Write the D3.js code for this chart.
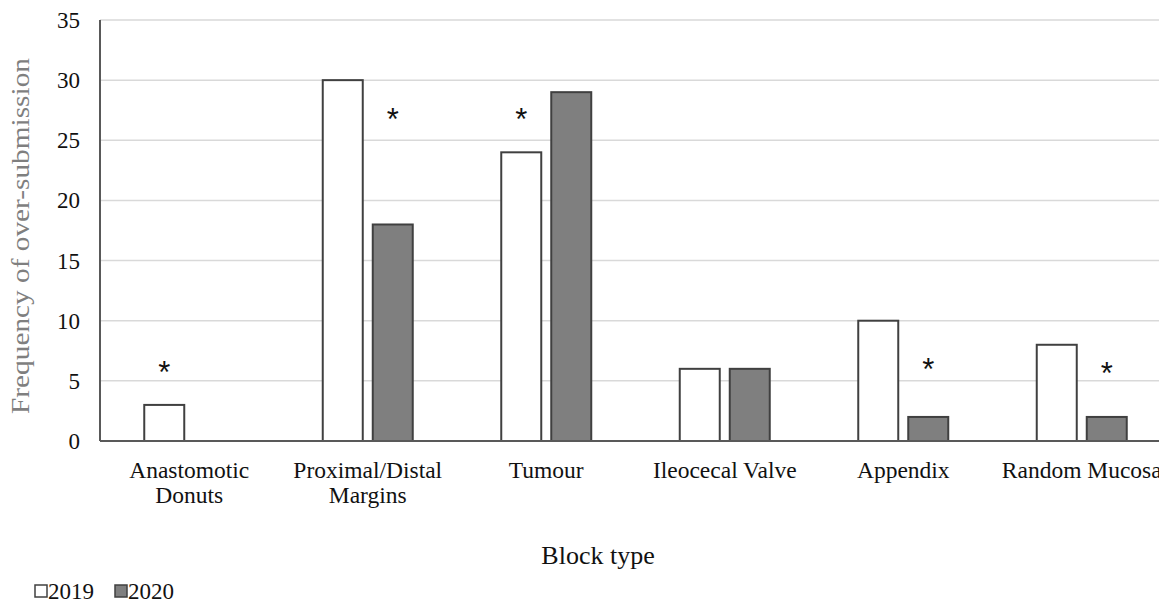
<!DOCTYPE html>
<html>
<head>
<meta charset="utf-8">
<script src="https://cdn.jsdelivr.net/npm/d3@7"></script>
<style>
  body { margin: 0; background: #fff; }
  svg { display: block; font-family: "Liberation Serif", "Times New Roman", serif; }
</style>
</head>
<body>
<div id="chart-area"></div>
<script>
// data
let categories = ["Anastomotic Donuts", "Proximal/Distal Margins", "Tumour", "Ileocecal Valve", "Appendix", "Random Mucosa"];
let labelLines = [["Anastomotic", "Donuts"], ["Proximal/Distal", "Margins"], ["Tumour"], ["Ileocecal Valve"], ["Appendix"], ["Random Mucosa"]];
let years = ["2019", "2020"];
let values2019 = [3, 30, 24, 6, 10, 8];
let values2020 = [0, 18, 29, 6, 2, 2];
// significance marks: which series it sits over and at what height
let starSeries = ["2019", "2020", "2019", null, "2020", "2020"];
let starLevel = [6.4, 27.4, 27.4, null, 6.6, 6.3];
let yTicks = [0, 5, 10, 15, 20, 25, 30, 35];

let W = 1159, H = 603;
let margin = {left: 100, top: 20};
let plotH = 421;
let step = 178.5;

let svg = d3.select("#chart-area")
    .append("svg")
    .attr("width", W)
    .attr("height", H);

let y = d3.scaleLinear()
    .domain([0, 35])
    .range([margin.top + plotH, margin.top]);

let x0 = d3.scaleBand()
    .domain(categories)
    .range([margin.left, margin.left + step * categories.length]);

let x1 = d3.scaleBand()
    .domain(years)
    .range([0, x0.bandwidth()])
    .paddingInner(0.2)
    .paddingOuter(0.885);

let color = {"2019": "#ffffff", "2020": "#7f7f7f"};

// gridlines
svg.append("g")
    .selectAll("line")
    .data(yTicks.filter(d => d > 0))
    .enter().append("line")
    .attr("x1", margin.left)
    .attr("x2", W)
    .attr("y1", d => y(d))
    .attr("y2", d => y(d))
    .attr("stroke", "#d9d9d9")
    .attr("stroke-width", 1.5);

// y tick labels
svg.append("g")
    .selectAll("text")
    .data(yTicks)
    .enter().append("text")
    .attr("x", 80)
    .attr("y", d => y(d))
    .attr("dy", "0.35em")
    .attr("text-anchor", "end")
    .attr("font-size", "23px")
    .attr("fill", "#111")
    .text(d => d);

// bars
let rows = categories.map((c, i) => ({cat: c, vals: [
    {year: "2019", v: values2019[i]},
    {year: "2020", v: values2020[i]}
]}));

let groups = svg.append("g")
    .selectAll("g")
    .data(rows)
    .enter().append("g")
    .attr("transform", d => "translate(" + x0(d.cat) + ",0)");

groups.selectAll("rect")
    .data(d => d.vals.filter(e => e.v > 0))
    .enter().append("rect")
    .attr("x", d => x1(d.year))
    .attr("width", x1.bandwidth())
    .attr("y", d => y(d.v))
    .attr("height", d => y(0) - y(d.v))
    .attr("fill", d => color[d.year])
    .attr("stroke", "#404040")
    .attr("stroke-width", 2);

// asterisks
svg.append("g")
    .selectAll("text")
    .data(categories.map((c, i) => ({cat: c, s: starSeries[i], lvl: starLevel[i]})).filter(d => d.s))
    .enter().append("text")
    .attr("x", d => x0(d.cat) + x1(d.s) + x1.bandwidth() / 2)
    .attr("y", d => y(d.lvl))
    .attr("dy", "0.6em")
    .attr("text-anchor", "middle")
    .attr("font-family", "'Liberation Sans', Arial, sans-serif")
    .attr("font-size", "31px")
    .attr("fill", "#111")
    .text("*");

// axes lines
svg.append("line")
    .attr("x1", margin.left).attr("x2", margin.left)
    .attr("y1", y(35)).attr("y2", y(0))
    .attr("stroke", "#595959").attr("stroke-width", 2);
svg.append("line")
    .attr("x1", margin.left).attr("x2", W)
    .attr("y1", y(0)).attr("y2", y(0))
    .attr("stroke", "#595959").attr("stroke-width", 2);

// category labels
let catLabels = svg.append("g")
    .selectAll("text")
    .data(categories)
    .enter().append("text")
    .attr("x", d => x0(d) + x0.bandwidth() / 2)
    .attr("y", 478)
    .attr("text-anchor", "middle")
    .attr("font-size", "23.5px")
    .attr("fill", "#111");

catLabels.each(function (d, i) {
    let t = d3.select(this);
    labelLines[i].forEach((line, j) => {
        t.append("tspan")
            .attr("x", x0(d) + x0.bandwidth() / 2)
            .attr("dy", j === 0 ? 0 : 25)
            .text(line);
    });
});

// axis titles
svg.append("text")
    .attr("x", 598)
    .attr("y", 564)
    .attr("text-anchor", "middle")
    .attr("font-size", "26px")
    .attr("fill", "#111")
    .text("Block type");

svg.append("text")
    .attr("transform", "rotate(-90)")
    .attr("x", -236)
    .attr("y", 29)
    .attr("text-anchor", "middle")
    .attr("font-size", "25px")
    .attr("textLength", 356)
    .attr("lengthAdjust", "spacingAndGlyphs")
    .attr("fill", "#7f7f7f")
    .text("Frequency of over-submission");

// legend
let legend = svg.append("g")
    .attr("transform", "translate(35,599)");

years.forEach((yr, i) => {
    let row = legend.append("g")
        .attr("transform", "translate(" + (i * 80) + ",0)");
    row.append("rect")
        .attr("x", 0)
        .attr("y", -14)
        .attr("width", 12)
        .attr("height", 12)
        .attr("fill", color[yr])
        .attr("stroke", "#404040")
        .attr("stroke-width", 1.5);
    row.append("text")
        .attr("x", 13)
        .attr("y", 0)
        .attr("font-size", "23px")
        .attr("fill", "#111")
        .text(yr);
});
</script>
</body>
</html>
